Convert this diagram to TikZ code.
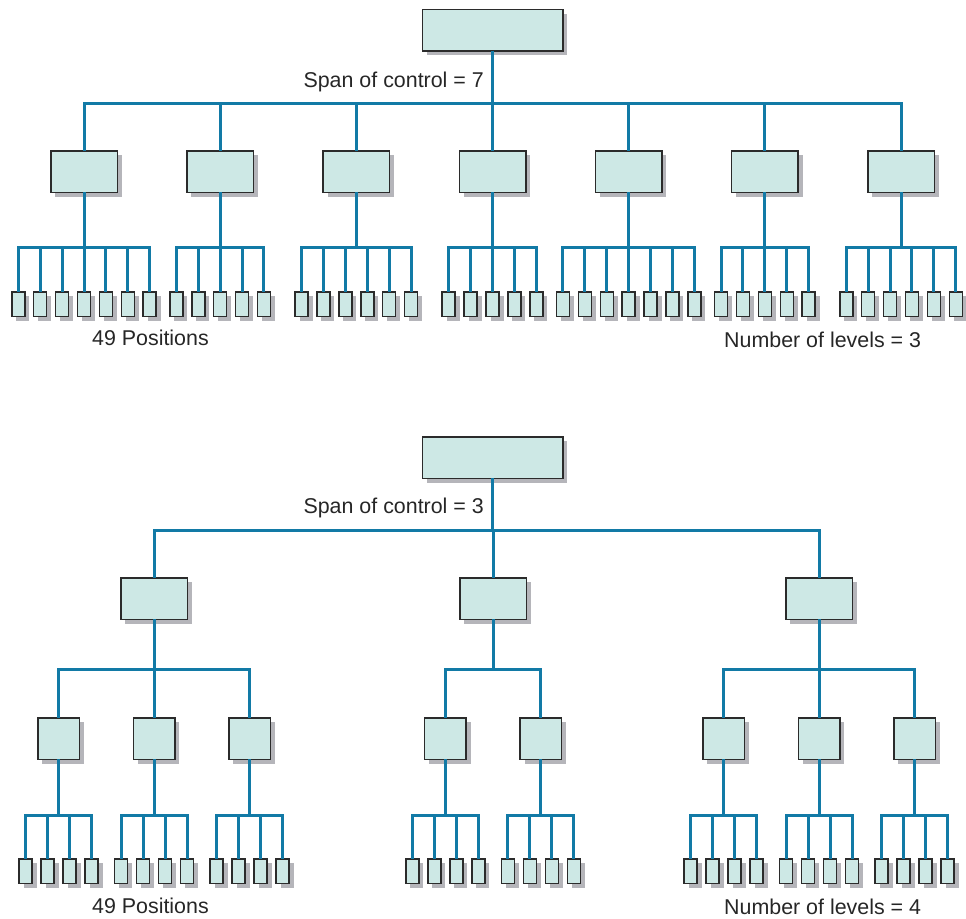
\documentclass[tikz,border=0pt]{standalone}
\usepackage{fontspec}
\setmainfont{Liberation Sans}
\usetikzlibrary{shadows}
\definecolor{boxfill}{HTML}{CDE8E5}
\definecolor{boxline}{HTML}{2B2B2B}
\definecolor{wirecol}{HTML}{127AA6}
\definecolor{shade}{HTML}{B5B5BA}
\tikzset{
  unit/.style={draw=boxline, fill=boxfill, line width=1.5pt, inner sep=0pt, outer sep=0pt,
    drop shadow={shadow xshift=4.5pt, shadow yshift=-4.5pt, fill=shade, opacity=1}},
  chief/.style={unit, minimum width=140.5pt, minimum height=41.5pt},
  manager/.style={unit, minimum width=66.5pt, minimum height=41.5pt},
  lead/.style={unit, minimum width=41.5pt, minimum height=41.5pt},
  worker/.style={unit, minimum width=13pt, minimum height=24.5pt},
  wire/.style={draw=wirecol, line width=3pt},
  caption/.style={font=\fontsize{21.4}{25}\selectfont, text=black!85, inner sep=0pt},
}
\begin{document}
\begin{tikzpicture}[x=1pt,y=-1pt]
\useasboundingbox (0,0) rectangle (966,918);

% ---- flat structure: span of control 7, three levels ----
\node[chief] (A) at (492.5,30) {};
\coordinate (Ab) at (0,103);
\foreach \i/\n in {1/7,2/5,3/6,4/5,5/7,6/5,7/6} {
  \pgfmathsetmacro\mx{84+136.17*(\i-1)}
  \node[manager] (A\i) at (\mx,171.5) {};
  \draw[wire] (A.south) -- (A.south |- Ab) -| (A\i.north);
  \coordinate (A\i b) at (0,247);
  \foreach \j in {1,...,\n} {
    \pgfmathsetmacro\lx{\mx+(\j-(\n+1)/2)*21.9}
    \node[worker] (A\i-\j) at (\lx,304) {};
    \draw[wire] (A\i.south) -- (A\i.south |- A\i b) -| (A\i-\j.north);
  }
}
\node[caption, anchor=base east] (spanA) at (484,87) {Span of control = 7};
\node[caption, anchor=base west] (posA) at (92,345) {49 Positions};
\node[caption, anchor=base west] (levA) at (724,347) {Number of levels = 3};

% ---- tall structure: span of control 3, four levels ----
\node[chief] (B) at (492.5,457.5) {};
\coordinate (Bb) at (0,530);
\foreach \i/\mx/\offs in {1/154/{-95.5,0,95.5}, 2/493/{-47.75,47.75}, 3/819/{-95.5,0,95.5}} {
  \node[manager] (B\i) at (\mx,598.5) {};
  \draw[wire] (B.south) -- (B.south |- Bb) -| (B\i.north);
  \coordinate (B\i b) at (0,669);
  \foreach \o [count=\k] in \offs {
    \pgfmathsetmacro\cx{\mx+\o}
    \node[lead] (B\i-\k) at (\cx,738.5) {};
    \draw[wire] (B\i.south) -- (B\i.south |- B\i b) -| (B\i-\k.north);
    \coordinate (B\i-\k b) at (0,815);
    \foreach \j in {1,...,4} {
      \pgfmathsetmacro\lx{\cx+(\j-2.5)*22}
      \node[worker] (B\i-\k-\j) at (\lx,871) {};
      \draw[wire] (B\i-\k.south) -- (B\i-\k.south |- B\i-\k b) -| (B\i-\k-\j.north);
    }
  }
}
\node[caption, anchor=base east] (spanB) at (484,513) {Span of control = 3};
\node[caption, anchor=base west] (posB) at (92,913) {49 Positions};
\node[caption, anchor=base west] (levB) at (724,914) {Number of levels = 4};
\end{tikzpicture}
\end{document}
